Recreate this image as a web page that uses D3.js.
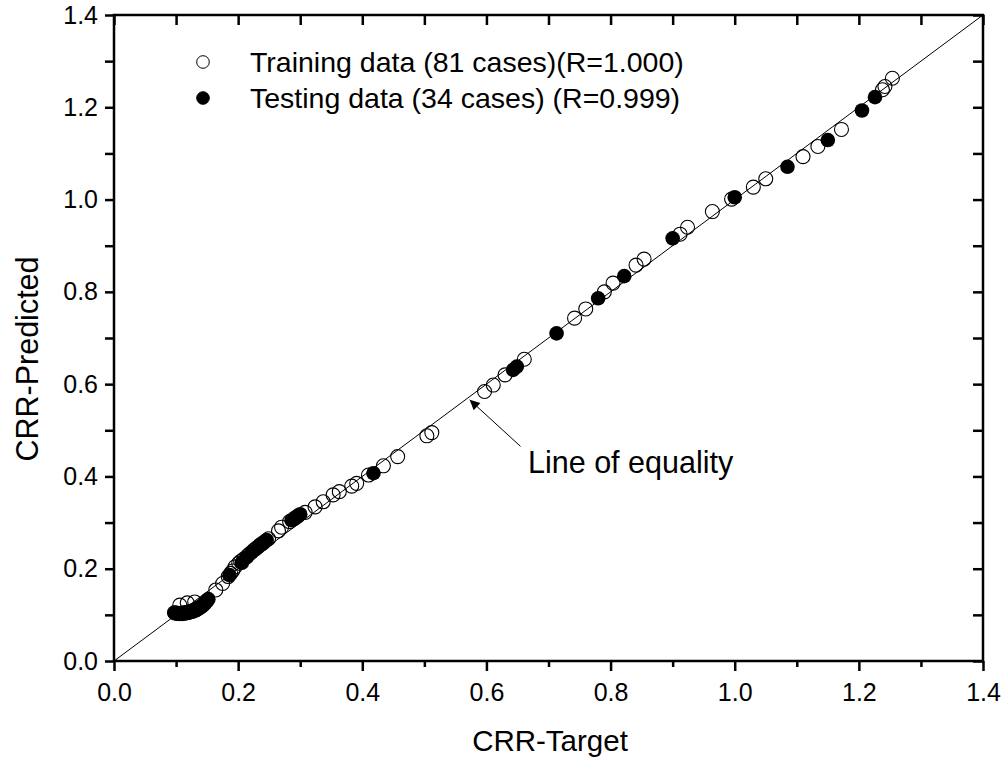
<!DOCTYPE html>
<html>
<head>
<meta charset="utf-8">
<script src="https://cdn.jsdelivr.net/npm/d3@7"></script>
<style>
  html, body { margin: 0; padding: 0; background: #fff; }
  svg { display: block; font-family: "Liberation Sans", Arial, sans-serif; }
</style>
</head>
<body>
<svg id="chart" width="1006" height="761"></svg>
<script>
// ---- data ----
const trainingTarget = [
  1.254, 1.242, 1.238, 1.172, 1.134, 1.110, 1.050, 1.030, 0.995, 0.964,
  0.924, 0.912, 0.854, 0.841, 0.804, 0.790, 0.760, 0.742, 0.661, 0.630,
  0.611, 0.597, 0.512, 0.504, 0.457, 0.434, 0.410, 0.391, 0.383, 0.363,
  0.353, 0.337, 0.324, 0.308, 0.270, 0.265, 0.201, 0.195, 0.175, 0.164,
  0.130, 0.106, 0.118,
  0.098, 0.101, 0.103, 0.105, 0.107, 0.109, 0.110, 0.113, 0.115, 0.118,
  0.120, 0.123, 0.125, 0.128, 0.130, 0.133, 0.135, 0.138, 0.140, 0.144,
  0.146, 0.150,
  0.184, 0.188, 0.191, 0.204, 0.209, 0.215, 0.219, 0.225, 0.229, 0.235,
  0.238, 0.243, 0.249, 0.283, 0.291, 0.296
];
const trainingPredicted = [
  1.263, 1.245, 1.238, 1.152, 1.115, 1.093, 1.045, 1.027, 1.001, 0.974,
  0.940, 0.925, 0.871, 0.858, 0.819, 0.800, 0.763, 0.743, 0.654, 0.620,
  0.598, 0.584, 0.495, 0.488, 0.443, 0.423, 0.403, 0.385, 0.379, 0.367,
  0.360, 0.345, 0.334, 0.322, 0.290, 0.282, 0.212, 0.204, 0.168, 0.154,
  0.128, 0.121, 0.126,
  0.104, 0.104, 0.103, 0.103, 0.103, 0.103, 0.104, 0.104, 0.105, 0.105,
  0.106, 0.107, 0.108, 0.109, 0.110, 0.112, 0.114, 0.116, 0.118, 0.122,
  0.125, 0.131,
  0.183, 0.190, 0.195, 0.216, 0.221, 0.228, 0.233, 0.240, 0.244, 0.251,
  0.254, 0.259, 0.265, 0.302, 0.309, 0.314
];
const testingTarget = [
  1.226, 1.205, 1.150, 1.085, 1.000, 0.900, 0.822, 0.780, 0.713, 0.649,
  0.643, 0.418, 0.300, 0.293, 0.286, 0.246, 0.240, 0.232, 0.222, 0.213,
  0.206, 0.186,
  0.097, 0.101, 0.105, 0.110, 0.115, 0.121, 0.127, 0.132, 0.137, 0.142,
  0.147, 0.152
];
const testingPredicted = [
  1.222, 1.193, 1.129, 1.071, 1.005, 0.916, 0.834, 0.786, 0.710, 0.638,
  0.631, 0.407, 0.318, 0.311, 0.305, 0.262, 0.255, 0.247, 0.236, 0.224,
  0.213, 0.186,
  0.105, 0.103, 0.102, 0.102, 0.103, 0.105, 0.107, 0.110, 0.114, 0.119,
  0.126, 0.134
];
const axisTicks = [0.0, 0.2, 0.4, 0.6, 0.8, 1.0, 1.2, 1.4];
const minorTicks = [0.1, 0.3, 0.5, 0.7, 0.9, 1.1, 1.3];
const legendLabels = ["Training data (81 cases)(R=1.000)", "Testing data (34 cases) (R=0.999)"];
const equalityLine = [[0, 0], [1.4, 1.4]];
const annotationText = "Line of equality";
const arrowTip = [0.573, 0.566];
const arrowTail = [0.655, 0.465];
const annotationPos = [0.667, 0.408];
const xTitle = "CRR-Target";
const yTitle = "CRR-Predicted";

(function () {
// ---- layout ----
const L = 114, R = 983, T = 15, B = 661;
const svg = d3.select("#chart");
const x = d3.scaleLinear().domain([0, 1.4]).range([L, R]);
const y = d3.scaleLinear().domain([0, 1.4]).range([B, T]);
const allTicks = axisTicks.concat(minorTicks).sort((a, b) => a - b);
const fmt = d3.format(".1f");

const gBottom = svg.append("g").attr("transform", `translate(0,${B})`)
  .call(d3.axisBottom(x).tickValues(axisTicks).tickFormat(fmt).tickSize(10).tickPadding(12));
const gBottomMinor = svg.append("g").attr("transform", `translate(0,${B})`)
  .call(d3.axisBottom(x).tickValues(minorTicks).tickFormat("").tickSize(6));
const gLeft = svg.append("g").attr("transform", `translate(${L},0)`)
  .call(d3.axisLeft(y).tickValues(axisTicks).tickFormat(fmt).tickSize(9).tickPadding(7));
const gLeftMinor = svg.append("g").attr("transform", `translate(${L},0)`)
  .call(d3.axisLeft(y).tickValues(minorTicks).tickFormat("").tickSize(9));
const gTop = svg.append("g").attr("transform", `translate(0,${T})`)
  .call(d3.axisBottom(x).tickValues(allTicks).tickFormat("").tickSize(10));
const gRight = svg.append("g").attr("transform", `translate(${R},0)`)
  .call(d3.axisLeft(y).tickValues(allTicks).tickFormat("").tickSize(10));

[gBottom, gBottomMinor, gLeft, gLeftMinor, gTop, gRight].forEach(g => {
  g.select(".domain").remove();
  g.selectAll(".tick line").attr("stroke", "#000").attr("stroke-width", 2.5);
  g.selectAll(".tick text").attr("fill", "#000").style("font-size", "25px")
    .style("font-family", "'Liberation Sans', Arial, sans-serif");
});

svg.append("rect").attr("x", x(0)).attr("y", y(1.4))
  .attr("width", x(1.4) - x(0)).attr("height", y(0) - y(1.4))
  .attr("fill", "none").attr("stroke", "#000").attr("stroke-width", 2.5);

svg.append("line")
  .attr("x1", x(equalityLine[0][0])).attr("y1", y(equalityLine[0][1]))
  .attr("x2", x(equalityLine[1][0])).attr("y2", y(equalityLine[1][1]))
  .attr("stroke", "#000").attr("stroke-width", 1);

svg.append("g").selectAll("circle").data(trainingTarget).join("circle")
  .attr("cx", d => x(d)).attr("cy", (d, i) => y(trainingPredicted[i]))
  .attr("r", 7).attr("fill", "none").attr("stroke", "#000").attr("stroke-width", 1.1);

svg.append("g").selectAll("circle").data(testingTarget).join("circle")
  .attr("cx", d => x(d)).attr("cy", (d, i) => y(testingPredicted[i]))
  .attr("r", 7.3).attr("fill", "#000");

svg.append("defs").append("marker").attr("id", "ah")
  .attr("viewBox", "0 0 10 10").attr("refX", 10).attr("refY", 5)
  .attr("markerWidth", 14).attr("markerHeight", 10).attr("markerUnits", "userSpaceOnUse")
  .attr("orient", "auto")
  .append("path").attr("d", "M0,0 L10,5 L0,10 Z").attr("fill", "#000");
svg.append("line")
  .attr("x1", x(arrowTail[0])).attr("y1", y(arrowTail[1]))
  .attr("x2", x(arrowTip[0])).attr("y2", y(arrowTip[1]))
  .attr("stroke", "#000").attr("stroke-width", 1).attr("marker-end", "url(#ah)");
svg.append("text").attr("x", x(annotationPos[0])).attr("y", y(annotationPos[1]))
  .attr("font-size", 30.5).attr("fill", "#000").text(annotationText);

const lg = svg.append("g");
legendLabels.forEach((lab, i) => {
  const yy = 62 + i * 36;
  lg.append("circle").attr("cx", 203).attr("cy", yy).attr("r", 6.3)
    .attr("fill", i === 0 ? "#fff" : "#000").attr("stroke", "#000").attr("stroke-width", 1);
  lg.append("text").attr("x", 250).attr("y", yy + 10).attr("font-size", 28.5)
    .attr("fill", "#000").text(lab);
});

svg.append("text").attr("x", 550).attr("y", 751).attr("text-anchor", "middle")
  .attr("font-size", 29.5).attr("fill", "#000").text(xTitle);
svg.append("text").attr("transform", `translate(38,359) rotate(-90)`)
  .attr("text-anchor", "middle").attr("font-size", 30.5).attr("fill", "#000").text(yTitle);
})();
</script>
</body>
</html>
